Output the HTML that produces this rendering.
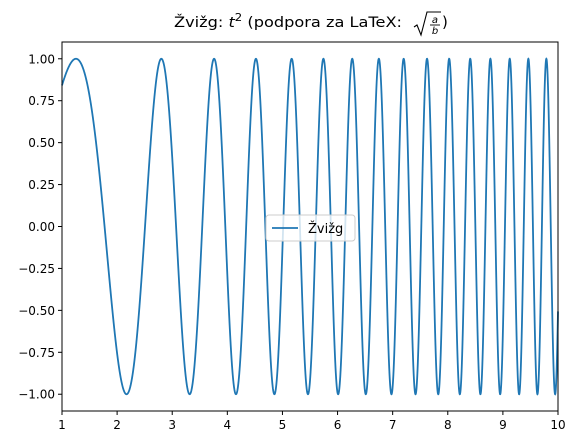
<!DOCTYPE html>
<html><head><meta charset="utf-8"><style>
html,body{margin:0;padding:0;background:#fff;}
svg{display:block;font-family:"DejaVu Sans","Liberation Sans",sans-serif;}
</style></head><body>
<svg id="chart" width="576" height="445" xmlns="http://www.w3.org/2000/svg">
<rect width="576" height="445" fill="#fff"/>
<g>
<text x="174" y="27" font-size="14.5" fill="#000" textLength="228" lengthAdjust="spacingAndGlyphs">Žvižg: <tspan font-style="italic">t</tspan><tspan dy="-6" font-size="10.5">2</tspan><tspan dy="6"> (podpora za LaTeX: </tspan></text>
<path d="M414,27 L417,25 L421,35 L427,12 L441,12" fill="none" stroke="#000" stroke-width="1.1"/>
<text x="435" y="23" font-size="10" text-anchor="middle" font-style="italic">a</text>
<line x1="430" y1="25" x2="440" y2="25" stroke="#000" stroke-width="0.9"/>
<text x="435" y="34" font-size="10" text-anchor="middle" font-style="italic">b</text>
<text x="442" y="27" font-size="15">)</text>
</g>
<g id="ticks"></g>
<g id="series"></g>
<rect x="62" y="42" width="496" height="369" fill="none" stroke="#000" stroke-width="1"/>
<g>
<rect x="266" y="215" width="89" height="26" rx="3" fill="#fff" fill-opacity="0.8" stroke="#ccc"/>
<line x1="272" y1="228" x2="298" y2="228" stroke="#1f77b4" stroke-width="1.8"/>
<text x="308" y="233" font-size="13">Žvižg</text>
</g>
</svg>
<script>
const xTicks=[1,2,3,4,5,6,7,8,9,10];
const yTicks=[-1.00,-0.75,-0.50,-0.25,0.00,0.25,0.50,0.75,1.00];
const xDomain=[1,10];
const yDomain=[-1.1,1.1];
const sampleCount=[4000];
const L=62,R=558,T=42,B=411;
const sx=v=>L+(v-xDomain[0])/(xDomain[1]-xDomain[0])*(R-L);
const sy=v=>B-(v-yDomain[0])/(yDomain[1]-yDomain[0])*(B-T);
const NS="http://www.w3.org/2000/svg";
const tg=document.getElementById('ticks');
xTicks.forEach(t=>{
 const l=document.createElementNS(NS,'line');
 l.setAttribute('x1',sx(t));l.setAttribute('x2',sx(t));l.setAttribute('y1',B);l.setAttribute('y2',B+4);l.setAttribute('stroke','#000');
 
 
 tg.appendChild(l);
 const tx=document.createElementNS(NS,'text');
 tx.setAttribute('x',sx(t));tx.setAttribute('y',B+18);tx.setAttribute('font-size','12');tx.setAttribute('text-anchor','middle');
 tx.textContent=t;
 
 
 tg.appendChild(tx);
});
yTicks.forEach(t=>{
 const l=document.createElementNS(NS,'line');
 l.setAttribute('x1',L-4);l.setAttribute('x2',L);l.setAttribute('y1',sy(t));l.setAttribute('y2',sy(t));l.setAttribute('stroke','#000');
 
 
 tg.appendChild(l);
 const tx=document.createElementNS(NS,'text');
 tx.setAttribute('x',L-7);tx.setAttribute('y',sy(t)+4.5);tx.setAttribute('font-size','12');tx.setAttribute('text-anchor','end');
 tx.textContent=(t<0?'\u2212':'')+Math.abs(t).toFixed(2);
 
 
 tg.appendChild(tx);
});
const n=sampleCount[0];
let d='';
for(let i=0;i<=n;i++){
 const t=xDomain[0]+(xDomain[1]-xDomain[0])*i/n;
 const y=Math.sin(t*t);
 d+=(i?'L':'M')+sx(t).toFixed(2)+','+sy(y).toFixed(2);
}
const p=document.createElementNS(NS,'path');
p.setAttribute('d',d);p.setAttribute('fill','none');p.setAttribute('stroke','#1f77b4');p.setAttribute('stroke-width','1.8');


document.getElementById('series').appendChild(p);
</script>
</body></html>
